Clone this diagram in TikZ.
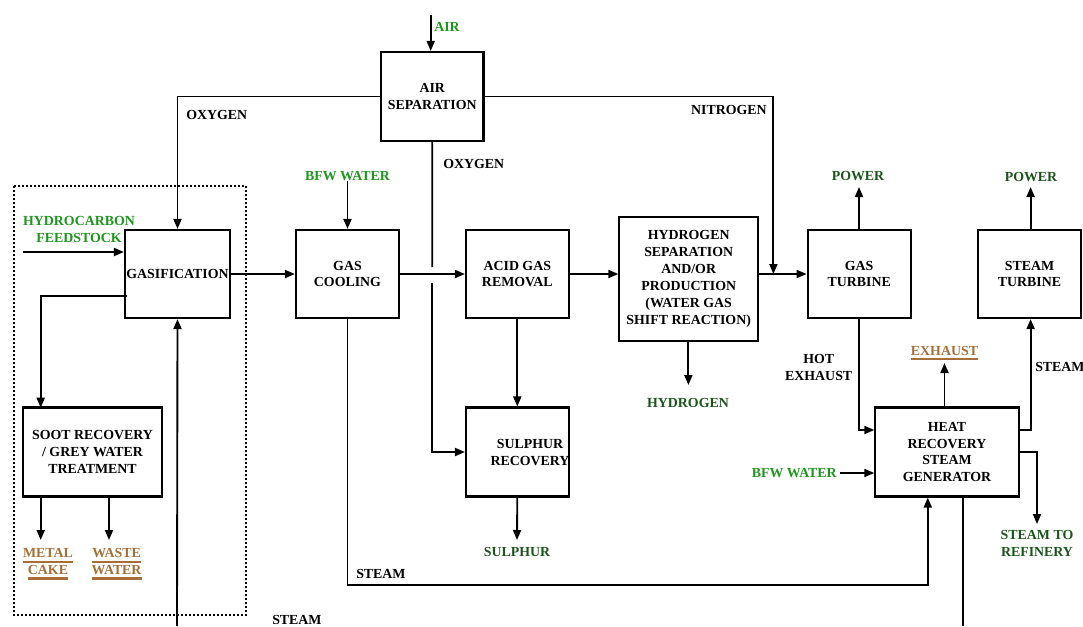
\documentclass[tikz,border=0pt]{standalone}
\usepackage{fontspec}
\setmainfont{Liberation Serif}
\newcommand{\undl}[1]{\leavevmode\setbox0\hbox{#1}\rlap{\vrule height -2.2pt depth 3.8pt width \wd0}\box0}
\usetikzlibrary{arrows.meta}
\definecolor{lgreen}{HTML}{1E961E}
\definecolor{dgreen}{HTML}{1C551C}
\definecolor{brownx}{HTML}{A86E38}
\begin{document}
\begin{tikzpicture}[x=0.75pt,y=-0.75pt,
  box/.style={draw, line width=1.6pt, align=center, inner sep=0pt, font=\fontsize{10.4}{12.7}\selectfont\bfseries},
  lab/.style={align=center, inner sep=0pt, font=\fontsize{10.4}{12.7}\selectfont\bfseries},
  conn/.style={line width=1.4pt},
  arr/.style={line width=1.4pt, -{Triangle[length=7.5pt,width=6pt]}}]
\useasboundingbox (0,0) rectangle (1083,626);
% dotted region
\draw[line width=1.4pt, dash pattern=on 1.4pt off 1.6pt] (13.8,186) rectangle (246,615);
% boxes
\node[box, minimum width=76.9pt, minimum height=66.75pt] (airsep) at (432.25,96.5) {AIR\\SEPARATION};
\node[box, minimum width=78.75pt, minimum height=66pt] (gasif) at (177.5,274) {GASIFICATION};
\node[box, minimum width=77.25pt, minimum height=66pt] (cool) at (347.5,274) {GAS\\COOLING};
\node[box, minimum width=76.95pt, minimum height=66pt] (acid) at (517.3,274) {ACID GAS\\REMOVAL};
\node[box, minimum width=103.95pt, minimum height=93pt] (hyd) at (688.7,279) {HYDROGEN\\SEPARATION\\AND/OR\\PRODUCTION\\(WATER GAS\\SHIFT REACTION)};
\node[box, minimum width=77.25pt, minimum height=66pt] (gt) at (859.2,274) {GAS\\TURBINE};
\node[box, minimum width=77.25pt, minimum height=66pt] (st) at (1029.5,274) {STEAM\\TURBINE};
\node[box, minimum width=103.7pt, minimum height=66.75pt] (soot) at (92.5,452) {SOOT RECOVERY\\/ GREY WATER\\TREATMENT};
\node[box, minimum width=76.95pt, minimum height=66.75pt] (sulph) at (517.3,452) {};
\node[lab] (sulphtxt) at (530,452.5) {SULPHUR\\RECOVERY};
\node[box, minimum width=107.4pt, minimum height=66.75pt] (hrsg) at (947,452) {HEAT\\RECOVERY\\STEAM\\GENERATOR};
% labels
\node[lab, text=lgreen, anchor=west] (air) at (434,27) {AIR};
\node[lab, anchor=west] (oxy1) at (186,115) {OXYGEN};
\node[lab, anchor=west] (oxy2) at (443,164) {OXYGEN};
\node[lab, anchor=east] (nitro) at (767,110) {NITROGEN};
\node[lab, text=lgreen] (bfw1) at (347.5,176) {BFW WATER};
\node[lab, text=lgreen] (feed) at (79,229.5) {HYDROCARBON\\FEEDSTOCK};
\node[lab, text=dgreen] (pow1) at (858,176) {POWER};
\node[lab, text=dgreen] (pow2) at (1031,177) {POWER};
\node[lab, text=dgreen] (h2) at (688,403) {HYDROGEN};
\node[lab, text=dgreen] (sul) at (517,552) {SULPHUR};
\node[lab, text=dgreen] (str) at (1037,543.5) {STEAM TO\\REFINERY};
\node[lab] (hot) at (818.7,367.5) {HOT\\EXHAUST};
\node[lab, text=brownx] (exh) at (944.5,353) {\undl{EXHAUST}};
\node[lab, anchor=west] (steamr) at (1035,367) {STEAM};
\node[lab, text=lgreen, anchor=east] (bfw2) at (837,473) {BFW WATER};
\node[lab, anchor=west] (steamm) at (356,574) {STEAM};
\node[lab, anchor=west] (steamb) at (272,620) {STEAM};
\node[lab, text=brownx] (metal) at (48,564) {\undl{METAL}\\\undl{CAKE}};
\node[lab, text=brownx] (waste) at (116.6,564) {\undl{WASTE}\\\undl{WATER}};
% coordinates
\coordinate (airin) at (430.7,15);
\coordinate (gaptop) at (432.3,267);
\coordinate (gapbot) at (432.3,283);
\coordinate (nitroend) at (773.4,274);
\coordinate (feedin) at (23,252);
\coordinate (sootout) at (127,296);
\coordinate (sootin) at (40.7,407.7);
\coordinate (metaltop) at (40.7,540);
\coordinate (wastetop) at (109,540);
\coordinate (steamin) at (177,626);
\coordinate (sulend) at (517,540);
\coordinate (h2end) at (688.4,385);
\coordinate (pow1end) at (859,187);
\coordinate (pow2end) at (1030.6,187);
\coordinate (exhend) at (944.5,363);
\coordinate (strend) at (1037,524);
\coordinate (bfw2start) at (840,473);
\coordinate (steamcorner) at (927.8,585);
\coordinate (hrsgout) at (962.6,626);
% connectors
\draw[arr] (airin) -- (airin |- airsep.north);
\draw[arr] (airsep.west) -| (gasif.north);
\draw[conn] (airsep.south) -- (gaptop);
\draw[arr] (gapbot) |- (sulph.west);
\draw[arr] (airsep.east) -| (nitroend);
\draw[arr] (bfw1.south) -- (cool.north);
\draw[arr] (feedin) -- (feedin -| gasif.west);
\draw[arr] (gasif.east) -- (cool.west);
\draw[arr] (cool.east) -- (acid.west);
\draw[arr] (acid.east) -- (acid.east -| hyd.west);
\draw[arr] (acid.east -| hyd.east) -- (gt.west);
\draw[arr] (sootout) -| (sootin);
\draw[arr] (sootin |- soot.south) -- (metaltop);
\draw[arr] (wastetop |- soot.south) -- (wastetop);
\draw[arr] (steamin) -- (gasif.south);
\draw[arr] (acid.south) -- (sulph.north);
\draw[arr] (sulph.south) -- (sulend);
\draw[arr] (hyd.south -| h2end) -- (h2end);
\draw[arr] (gt.north -| pow1end) -- (pow1end);
\draw[arr] (st.north -| pow2end) -- (pow2end);
\draw[arr] (gt.south -| pow1end) |- (hrsg.west |- 0,430);
\draw[arr] (exhend |- hrsg.north) -- (exhend);
\draw[arr] (hrsg.east |- 0,430) -| (st.south -| pow2end);
\draw[arr] (hrsg.east |- 0,452) -| (strend);
\draw[arr] (bfw2start) -- (bfw2start -| hrsg.west);
\draw[arr] (cool.south) |- (steamcorner) -- (steamcorner |- hrsg.south);
\draw[conn] (hrsgout |- hrsg.south) -- (hrsgout);
\end{tikzpicture}
\end{document}
